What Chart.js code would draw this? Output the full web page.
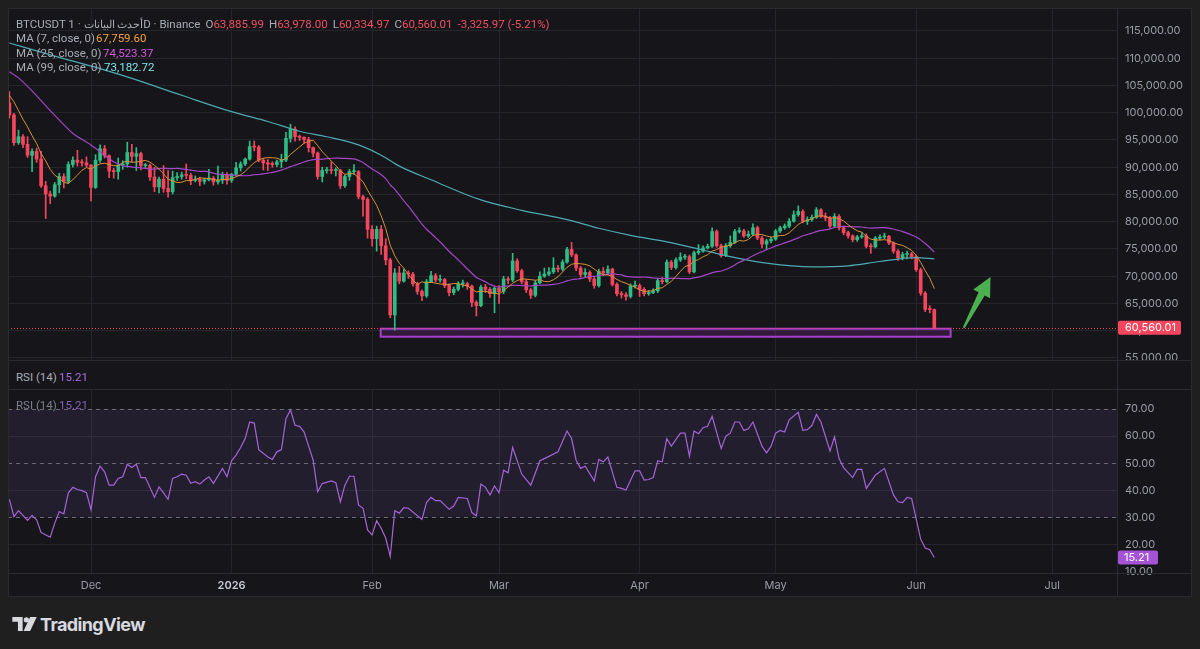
<!DOCTYPE html>
<html lang="en">
<head>
<meta charset="utf-8">
<title>BTCUSDT 1D</title>
<script src="https://cdn.jsdelivr.net/npm/chart.js@4.4.1/dist/chart.umd.min.js"></script>
<style>
  html, body { margin: 0; padding: 0; }
  body { width: 1200px; height: 649px; background: #1f1f1f; position: relative; overflow: hidden; font-family: Inter, Roboto, "Noto Sans", sans-serif; }
  #widget { position: absolute; left: 8px; top: 8px; width: 1184px; height: 588px; background: #16161a; }
  canvas { position: absolute; }
  #priceCanvas { left: 8px; top: 8px; }
  #rsiCanvas { left: 8px; top: 389px; }
  .sep { position: absolute; background: #2a2b31; }
  .legend { position: absolute; font-family: Roboto, "Noto Sans", sans-serif; font-size: 11.5px; line-height: 14px; color: #a9acb5; white-space: nowrap; }
  .legend .item { margin-left: 5px; }
  .ar { font-size: 10.5px; }
  .red { color: #f0505f; }
  #logo { position: absolute; left: 12px; top: 612px; height: 24px; display: flex; align-items: center; color: #d8dae0; font-size: 18px; font-weight: 700; letter-spacing: -0.6px; }
  #logo svg { margin-right: 3px; }
</style>
</head>
<body>
<div id="widget"></div>
<canvas id="priceCanvas" width="1184" height="352"></canvas>
<canvas id="rsiCanvas" width="1184" height="207"></canvas>

<div class="sep" style="left:8px;top:8px;width:1184px;height:1px"></div>
<div class="sep" style="left:8px;top:360px;width:1184px;height:1px"></div>
<div class="sep" style="left:8px;top:389px;width:1184px;height:1px"></div>
<div class="sep" style="left:8px;top:573px;width:1184px;height:1px"></div>
<div class="sep" style="left:8px;top:596px;width:1184px;height:1px"></div>
<div class="sep" style="left:8px;top:8px;width:1px;height:589px"></div>
<div class="sep" style="left:1117px;top:8px;width:1px;height:589px"></div>
<div class="sep" style="left:1191px;top:8px;width:1px;height:589px"></div>

<div class="legend" style="left:16px;top:17px">BTCUSDT 1 · <span class="ar">أحدث البيانات</span>D · Binance<span class="item">O<span class="red">63,885.99</span></span><span class="item">H<span class="red">63,978.00</span></span><span class="item">L<span class="red">60,334.97</span></span><span class="item">C<span class="red">60,560.01</span></span><span class="item red">-3,325.97 (-5.21%)</span></div>
<div class="legend" style="left:16px;top:31px">MA (7, close, 0)</div>
<div class="legend" style="left:96px;top:31px;color:#f4a340">67,759.60</div>
<div class="legend" style="left:16px;top:46px">MA (25, close, 0)</div>
<div class="legend" style="left:103px;top:46px;color:#d656e0">74,523.37</div>
<div class="legend" style="left:16px;top:60px">MA (99, close, 0)</div>
<div class="legend" style="left:104px;top:60px;color:#7fe3e8">73,182.72</div>
<div class="legend" style="left:16px;top:370px">RSI (14)</div>
<div class="legend" style="left:59px;top:370px;color:#a66ee0">15.21</div>
<div class="legend" style="left:16px;top:398px;color:#7d808a">RSI (14)</div>
<div class="legend" style="left:59px;top:398px;color:#8a5fc0">15.21</div>

<div id="logo">
  <svg width="25" height="15" viewBox="0 0 26 16">
    <path d="M0 0 H11 V15 H6 V5 H0 Z" fill="#d8dae0"/>
    <circle cx="15" cy="3" r="2.8" fill="#d8dae0"/>
    <path d="M19 0 H26 L19 15 H12 Z" fill="#d8dae0"/>
  </svg>
  TradingView
</div>

<script>
// day 0 = 13 Nov 2025, one candle per day, prices in thousands of USDT
const monthTicks = [18, 49, 80, 108, 139, 169, 200, 230];
const monthLabels = ['Dec', '2026', 'Feb', 'Mar', 'Apr', 'May', 'Jun', 'Jul'];
const priceTicks = [55, 60, 65, 70, 75, 80, 85, 90, 95, 100, 105, 110, 115];
const rsiTicks = [10, 20, 30, 40, 50, 60, 70];

const firstOpen = 101.8;
const closes = [
  99.6, 94.5, 95.6, 94.2, 92.2, 92.9, 91.5, 86.6, 85.1, 84.7,
  86.8, 88.3, 87.4, 90.5, 91.3, 90.9, 90.8, 90.4, 86.3, 91.3,
  93.4, 92.1, 89.3, 89.2, 90.4, 90.6, 92.7, 92.0, 92.5, 90.3,
  90.3, 88.2, 86.4, 87.8, 86.1, 85.5, 88.1, 88.3, 88.6, 88.5,
  87.6, 87.8, 87.4, 87.7, 88.0, 87.3, 87.6, 88.6, 87.6, 88.7,
  89.9, 90.6, 91.5, 93.8, 93.7, 91.3, 90.8, 90.6, 90.5, 91.0,
  91.3, 95.3, 97.0, 95.6, 95.5, 95.1, 93.6, 92.6, 88.3, 89.4,
  89.5, 89.4, 89.4, 86.6, 88.3, 89.2, 89.2, 84.6, 84.1, 78.6,
  76.9, 78.6, 75.6, 73.0, 62.9, 70.6, 69.1, 70.6, 70.4, 68.6,
  67.2, 66.4, 69.0, 70.1, 69.3, 69.4, 68.3, 67.0, 67.6, 68.6,
  68.6, 68.2, 65.2, 64.6, 68.0, 67.6, 66.8, 67.8, 67.2, 69.5,
  69.3, 72.8, 71.0, 69.0, 67.5, 66.5, 68.8, 70.0, 70.4, 70.8,
  71.5, 71.3, 72.6, 74.9, 73.9, 71.5, 70.3, 70.7, 69.5, 68.3,
  70.9, 70.6, 71.3, 68.5, 66.8, 66.6, 66.3, 68.2, 68.3, 67.6,
  66.8, 67.0, 67.3, 69.2, 69.0, 72.6, 71.6, 73.0, 73.5, 73.6,
  70.8, 74.3, 74.6, 75.2, 75.5, 78.2, 75.6, 73.8, 75.6, 76.2,
  78.2, 78.3, 77.4, 77.7, 78.9, 77.0, 75.9, 76.5, 76.8, 78.3,
  78.9, 79.2, 80.1, 81.3, 81.9, 80.1, 80.4, 80.8, 82.2, 81.0,
  80.7, 79.2, 81.0, 78.9, 78.0, 77.4, 76.7, 77.2, 77.4, 75.5,
  75.4, 77.0, 77.2, 77.3, 76.1, 74.6, 73.4, 74.0, 74.1, 73.6,
  71.2, 66.9, 63.9, 63.886, 60.56
];
const highs = [
  103.9, 99.9, 96.8, 96.0, 95.6, 93.4, 93.5, 92.9, 87.4, 85.6,
  87.2, 88.9, 88.8, 91.0, 91.9, 93.1, 91.4, 91.9, 90.5, 92.3,
  94.1, 94.0, 92.3, 89.8, 91.7, 91.2, 94.6, 94.2, 93.6, 92.8,
  90.7, 90.6, 90.0, 88.2, 90.3, 89.4, 89.3, 89.0, 89.1, 90.6,
  88.9, 88.4, 88.2, 88.0, 89.6, 88.3, 90.2, 89.1, 89.0, 88.9,
  90.9, 91.0, 91.7, 94.8, 94.8, 94.0, 91.6, 91.4, 91.0, 91.3,
  92.4, 96.4, 97.9, 97.4, 95.9, 95.6, 95.5, 93.7, 92.8, 90.0,
  90.0, 91.0, 89.9, 89.6, 88.6, 89.6, 90.5, 89.4, 84.9, 84.4,
  79.3, 79.2, 79.3, 76.9, 73.3, 71.4, 71.8, 71.3, 71.0, 70.7,
  68.9, 67.5, 69.4, 70.9, 70.5, 70.2, 69.6, 68.6, 68.0, 69.0,
  69.3, 68.9, 68.4, 65.5, 68.4, 68.5, 67.9, 68.1, 68.3, 70.0,
  69.9, 74.2, 73.2, 71.3, 69.4, 67.8, 69.2, 70.8, 71.5, 71.6,
  73.4, 72.0, 73.0, 75.3, 76.2, 74.1, 71.8, 71.4, 71.0, 69.8,
  71.3, 71.6, 71.9, 71.5, 68.8, 67.2, 67.0, 68.6, 69.1, 68.6,
  67.9, 67.4, 67.7, 69.6, 69.8, 73.0, 72.9, 73.4, 74.3, 74.0,
  73.9, 74.6, 75.8, 75.6, 75.9, 78.9, 78.5, 75.9, 76.0, 77.4,
  78.6, 78.9, 78.6, 78.3, 79.6, 79.2, 77.3, 76.8, 77.2, 78.6,
  79.2, 79.6, 80.6, 82.0, 82.9, 82.2, 80.9, 81.2, 82.6, 82.4,
  81.6, 81.0, 81.5, 81.3, 79.2, 78.3, 77.6, 77.5, 78.0, 77.8,
  76.0, 77.3, 77.6, 77.9, 77.5, 76.3, 74.9, 74.4, 74.6, 74.4,
  73.9, 71.5, 67.2, 64.6, 63.978
];
const lows = [
  99.0, 94.0, 94.2, 93.6, 91.8, 89.2, 90.9, 86.3, 80.6, 83.3,
  84.5, 85.3, 86.2, 87.0, 90.0, 90.2, 90.2, 90.1, 83.8, 86.1,
  90.9, 91.7, 88.1, 88.0, 87.8, 89.6, 90.0, 91.0, 89.4, 89.5,
  89.8, 87.6, 85.5, 85.3, 85.4, 84.5, 85.1, 87.6, 87.8, 87.9,
  86.8, 87.3, 86.6, 86.9, 87.5, 86.7, 86.9, 87.0, 86.9, 87.2,
  88.4, 89.3, 90.3, 91.3, 93.0, 91.0, 89.5, 89.4, 90.0, 90.1,
  89.9, 91.0, 94.6, 94.8, 94.9, 94.4, 92.8, 91.9, 87.8, 87.3,
  88.9, 88.8, 88.4, 86.1, 86.3, 87.6, 88.7, 84.2, 81.0, 77.0,
  75.5, 74.6, 74.0, 72.1, 62.4, 60.1, 68.6, 68.9, 69.6, 68.2,
  66.7, 65.5, 66.1, 68.8, 68.9, 68.9, 67.9, 66.4, 66.6, 67.3,
  68.0, 67.6, 64.4, 62.7, 64.4, 67.0, 66.1, 63.3, 65.0, 66.8,
  68.6, 69.0, 70.7, 68.6, 67.0, 65.9, 66.2, 68.6, 69.8, 70.1,
  70.5, 70.8, 71.0, 72.4, 73.6, 71.0, 69.8, 69.9, 69.0, 67.8,
  68.0, 70.1, 70.3, 68.2, 66.4, 66.0, 65.6, 66.0, 67.8, 66.3,
  66.4, 66.5, 66.8, 67.0, 68.6, 68.8, 71.2, 71.3, 72.7, 73.1,
  70.5, 70.6, 74.0, 74.4, 75.0, 75.3, 75.3, 73.5, 73.6, 75.3,
  76.0, 77.9, 77.1, 77.1, 77.5, 76.7, 75.2, 74.9, 76.1, 76.6,
  78.0, 78.6, 78.9, 79.9, 81.0, 79.8, 79.5, 80.1, 80.6, 80.7,
  80.2, 78.8, 79.0, 78.5, 77.6, 77.0, 76.3, 76.4, 77.0, 75.2,
  74.2, 75.2, 76.7, 76.9, 75.8, 74.2, 72.9, 73.0, 73.2, 73.2,
  70.9, 66.5, 63.5, 63.3, 60.335
];

// moving-average values before a full window exists
const ma7Head = [[0, 103.2], [1, 102.0], [2, 100.4], [3, 98.8], [4, 97.4], [5, 95.8]];
const ma25Head = [[0, 107.5], [2, 106.4], [5, 104.0], [9, 100.4], [14, 96.2], [18, 94.1], [21, 92.2], [23, 91.0]];
const ma99Points = [
  [0, 112.8], [10, 110.4], [20, 108.1], [27, 106.3], [38, 103.2], [49, 100.2], [57, 98.4],
  [64, 96.6], [70, 95.6], [77, 94.1], [82, 92.2], [86, 90.2], [93, 87.7], [104, 84.0],
  [113, 82.1], [123, 80.4], [130, 78.8], [137, 77.5], [145, 76.3], [152, 75.0], [159, 73.6],
  [167, 72.4], [177, 71.7], [185, 71.9], [192, 72.7], [200, 73.4], [204, 73.18]
];

const rsiDays = [
  0, 1, 2, 4, 5, 6, 7, 9, 10, 11, 12, 13, 14, 15, 16, 17, 18, 19, 20, 21,
  22, 23, 24, 25, 26, 27, 28, 29, 30, 32, 33, 34, 35, 36, 37, 38, 39, 40, 41, 42,
  43, 44, 45, 47, 48, 49, 50, 51, 52, 53, 54, 55, 57, 58, 59, 60, 61, 62, 63, 64,
  65, 66, 67, 68, 69, 71, 72, 73, 74, 75, 76, 77, 78, 79, 80, 81, 82, 83, 84, 85,
  86, 87, 88, 91, 92, 93, 94, 95, 97, 98, 99, 101, 102, 103, 104, 105, 106, 107, 108, 109,
  110, 111, 113, 115, 117, 118, 121, 123, 124, 125, 126, 127, 129, 130, 131, 132, 134, 135, 136, 138,
  139, 140, 141, 142, 143, 144, 145, 146, 148, 149, 150, 151, 152, 153, 154, 155, 157, 158, 159, 160,
  161, 162, 163, 164, 166, 167, 168, 169, 170, 171, 172, 174, 175, 176, 177, 178, 179, 181, 182, 183,
  184, 186, 187, 188, 189, 191, 193, 195, 196, 197, 198, 199, 201, 202, 203, 204
];
const rsiValues = [
  36.7, 30.3, 32.5, 28.9, 30.8, 29.1, 24.4, 22.7, 27.9, 32.2, 31.3, 39.1, 41.1, 40.3, 39.9, 39.1, 32.8, 45.0, 48.9, 46.8,
  41.9, 41.9, 44.4, 45.0, 49.6, 48.4, 49.6, 44.7, 44.7, 37.4, 41.3, 39.1, 36.7, 44.4, 45.0, 46.0, 45.6, 42.6, 43.2, 42.3,
  43.8, 45.0, 42.6, 48.1, 45.0, 50.9, 53.0, 55.8, 59.1, 65.2, 64.8, 55.0, 52.3, 51.4, 54.2, 55.0, 66.4, 69.7, 64.0, 63.6,
  61.5, 56.3, 51.1, 39.5, 42.5, 43.5, 42.8, 35.8, 41.9, 45.2, 45.2, 34.6, 33.4, 25.4, 23.6, 28.8, 26.0, 22.4, 15.6, 32.5,
  31.6, 33.6, 33.4, 29.3, 35.5, 37.4, 36.2, 36.2, 33.0, 34.2, 37.4, 37.0, 31.8, 30.6, 42.3, 41.1, 38.3, 41.6, 39.1, 47.4,
  46.5, 55.8, 46.0, 41.9, 50.9, 51.7, 54.2, 61.9, 59.1, 51.1, 48.1, 48.9, 43.5, 51.4, 50.5, 52.3, 41.1, 40.7, 40.1, 47.2,
  47.2, 43.8, 44.0, 44.7, 50.9, 50.5, 59.1, 56.3, 61.1, 61.1, 52.6, 61.9, 60.9, 63.1, 63.6, 67.3, 55.4, 59.9, 61.1, 65.2,
  65.2, 62.1, 62.7, 65.2, 56.3, 53.8, 56.3, 61.1, 62.1, 61.5, 66.0, 68.8, 62.1, 62.4, 63.9, 68.0, 65.2, 54.5, 59.7, 51.7,
  48.4, 44.7, 47.7, 47.7, 40.7, 45.6, 48.1, 38.3, 35.8, 35.5, 37.4, 37.0, 22.0, 18.7, 18.1, 15.21
];

const lastPrice = 60560.01;
const lastRsi = 15.21;
// [from day, to day, low, high]
const supportZone = [81.9, 207.6, 58.9, 60.37];
// [[day, price], [day, price]] tail -> tip
const arrowPath = [[210.5, 60.55], [216.4, 69.85]];

const upColor = '#2ebd85';
const downColor = '#f6465d';
const gridColor = '#25262c';
const axisText = '#9a9ca6';
const xMin = -0.31, xMax = 244.3;

function fmt(v) {
  return v.toLocaleString('en-US', { minimumFractionDigits: 2, maximumFractionDigits: 2 });
}

function movingAverage(period) {
  const out = [];
  for (let i = period - 1; i < closes.length; i++) {
    let sum = 0;
    for (let j = i - period + 1; j <= i; j++) sum += closes[j];
    out.push({ x: i, y: sum / period });
  }
  return out;
}

const toPoints = arr => arr.map(p => ({ x: p[0], y: p[1] }));
const opens = closes.map((c, i) => i === 0 ? firstOpen : closes[i - 1]);
const candleColors = closes.map((c, i) => c >= opens[i] ? upColor : downColor);

Chart.defaults.font.family = 'Inter, Roboto, sans-serif';
Chart.defaults.animation = false;

function monthGrid(scale) { scale.ticks = monthTicks.map(v => ({ value: v })); }

// green arrow, shaft tapering to the tail
function drawArrow(ctx, x0, y0, x1, y1) {
  const ang = Math.atan2(y1 - y0, x1 - x0);
  const len = Math.hypot(x1 - x0, y1 - y0);
  const headLen = 19, headHalf = 9.5;
  ctx.save();
  ctx.translate(x0, y0);
  ctx.rotate(ang);
  ctx.beginPath();
  ctx.moveTo(0, -1);
  ctx.lineTo(len - headLen, -3.5);
  ctx.lineTo(len - headLen, -headHalf);
  ctx.lineTo(len, 0);
  ctx.lineTo(len - headLen, headHalf);
  ctx.lineTo(len - headLen, 3.5);
  ctx.lineTo(0, 1);
  ctx.closePath();
  ctx.fillStyle = '#4caf50';
  ctx.fill();
  ctx.restore();
}

const priceOverlay = {
  id: 'priceOverlay',
  beforeDatasetsDraw(chart) {
    const { ctx, scales: { x, y } } = chart;
    const x0 = x.getPixelForValue(supportZone[0]);
    const x1 = x.getPixelForValue(supportZone[1]);
    const yTop = y.getPixelForValue(supportZone[3]);
    const yBot = y.getPixelForValue(supportZone[2]);
    ctx.save();
    ctx.fillStyle = 'rgba(156, 39, 176, 0.22)';
    ctx.fillRect(x0, yTop, x1 - x0, yBot - yTop);
    ctx.strokeStyle = '#a83fd0';
    ctx.lineWidth = 2;
    ctx.strokeRect(x0, yTop, x1 - x0, yBot - yTop);
    ctx.restore();
  },
  afterDatasetsDraw(chart) {
    const { ctx, chartArea, scales: { x, y } } = chart;
    const py = Math.round(y.getPixelForValue(lastPrice / 1000)) + 0.5;
    ctx.save();
    ctx.strokeStyle = downColor;
    ctx.lineWidth = 1;
    ctx.setLineDash([1, 2]);
    ctx.beginPath();
    ctx.moveTo(chartArea.left, py);
    ctx.lineTo(chartArea.right, py);
    ctx.stroke();
    ctx.restore();
    drawArrow(ctx,
      x.getPixelForValue(arrowPath[0][0]), y.getPixelForValue(arrowPath[0][1]),
      x.getPixelForValue(arrowPath[1][0]), y.getPixelForValue(arrowPath[1][1]));
  },
  afterDraw(chart) {
    const { ctx, chartArea, scales: { y } } = chart;
    ctx.save();
    ctx.font = '11px Inter, Roboto, sans-serif';
    ctx.textBaseline = 'middle';
    ctx.textAlign = 'left';
    ctx.fillStyle = axisText;
    priceTicks.forEach(v => ctx.fillText(fmt(v * 1000), chartArea.right + 8, y.getPixelForValue(v)));
    const py = y.getPixelForValue(lastPrice / 1000);
    ctx.fillStyle = downColor;
    ctx.beginPath();
    ctx.roundRect(chartArea.right + 1, py - 7, 63, 14, 2);
    ctx.fill();
    ctx.fillStyle = '#ffffff';
    ctx.fillText(fmt(lastPrice), chartArea.right + 8, py + 0.5);
    ctx.restore();
  }
};

new Chart(document.getElementById('priceCanvas'), {
  type: 'bar',
  data: {
    datasets: [
      {
        type: 'line', label: 'MA 7', data: toPoints(ma7Head).concat(movingAverage(7)),
        borderColor: '#d9913a', borderWidth: 1, pointRadius: 0, tension: 0
      },
      {
        type: 'line', label: 'MA 25', data: toPoints(ma25Head).concat(movingAverage(25)),
        borderColor: '#a446c8', borderWidth: 1.2, pointRadius: 0, tension: 0.2
      },
      {
        type: 'line', label: 'MA 99', data: toPoints(ma99Points),
        borderColor: '#4fa9b3', borderWidth: 1.2, pointRadius: 0, cubicInterpolationMode: 'monotone'
      },
      {
        label: 'body', data: closes.map((c, i) => ({ x: i, y: [opens[i], c] })),
        backgroundColor: candleColors, barThickness: 3, minBarLength: 1, grouped: false, borderWidth: 0
      },
      {
        label: 'wick', data: closes.map((c, i) => ({ x: i, y: [lows[i], highs[i]] })),
        backgroundColor: candleColors, barThickness: 1, grouped: false, borderWidth: 0
      }
    ]
  },
  options: {
    responsive: false,
    events: [],
    layout: { padding: 0 },
    plugins: { legend: { display: false }, tooltip: { enabled: false } },
    scales: {
      x: {
        type: 'linear', min: xMin, max: xMax, offset: false,
        grid: { color: gridColor, drawTicks: false, offset: false },
        border: { display: false }, ticks: { display: false },
        afterBuildTicks: monthGrid,
        afterFit: s => { s.height = 0; }
      },
      y: {
        position: 'right', min: 54.63, max: 119.22, beginAtZero: false,
        grid: { color: gridColor, drawTicks: false },
        border: { display: false }, ticks: { display: false },
        afterBuildTicks: s => { s.ticks = priceTicks.map(v => ({ value: v })); },
        afterFit: s => { s.width = 75; }
      }
    }
  },
  plugins: [priceOverlay]
});

const rsiOverlay = {
  id: 'rsiOverlay',
  beforeDatasetsDraw(chart) {
    const { ctx, chartArea, scales: { y } } = chart;
    const y70 = y.getPixelForValue(70), y30 = y.getPixelForValue(30);
    ctx.save();
    ctx.fillStyle = 'rgba(126, 87, 194, 0.12)';
    ctx.fillRect(chartArea.left, y70, chartArea.right - chartArea.left, y30 - y70);
    ctx.strokeStyle = 'rgba(130, 133, 144, 0.75)';
    ctx.lineWidth = 1;
    ctx.setLineDash([4, 4]);
    [70, 50, 30].forEach(v => {
      const py = Math.round(y.getPixelForValue(v)) + 0.5;
      ctx.beginPath();
      ctx.moveTo(chartArea.left, py);
      ctx.lineTo(chartArea.right, py);
      ctx.stroke();
    });
    ctx.restore();
  },
  afterDraw(chart) {
    const { ctx, chartArea, scales: { x, y } } = chart;
    ctx.save();
    ctx.font = '11px Inter, Roboto, sans-serif';
    ctx.textBaseline = 'middle';
    ctx.textAlign = 'left';
    ctx.fillStyle = axisText;
    ctx.save();
    ctx.beginPath();
    ctx.rect(chartArea.right, 0, 80, chartArea.bottom + 2);
    ctx.clip();
    rsiTicks.forEach(v => ctx.fillText(fmt(v), chartArea.right + 8, y.getPixelForValue(v)));
    ctx.restore();

    const py = y.getPixelForValue(lastRsi);
    ctx.fillStyle = '#a452d6';
    ctx.beginPath();
    ctx.roundRect(chartArea.right + 1, py - 7, 40, 14, 2);
    ctx.fill();
    ctx.fillStyle = '#ffffff';
    ctx.fillText(fmt(lastRsi), chartArea.right + 7, py + 0.5);

    ctx.textAlign = 'center';
    monthTicks.forEach((v, i) => {
      const bold = monthLabels[i] === '2026';
      ctx.font = (bold ? '600 ' : '') + '11px Inter, Roboto, sans-serif';
      ctx.fillStyle = bold ? '#c9ccd4' : axisText;
      ctx.fillText(monthLabels[i], x.getPixelForValue(v), chartArea.bottom + 13);
    });
    ctx.restore();
  }
};

new Chart(document.getElementById('rsiCanvas'), {
  type: 'line',
  data: {
    datasets: [{
      label: 'RSI 14', data: rsiDays.map((d, i) => ({ x: d, y: rsiValues[i] })),
      borderColor: '#a664d8', borderWidth: 1.2, pointRadius: 0, tension: 0
    }]
  },
  options: {
    responsive: false,
    events: [],
    layout: { padding: 0 },
    plugins: { legend: { display: false }, tooltip: { enabled: false } },
    scales: {
      x: {
        type: 'linear', min: xMin, max: xMax, offset: false,
        grid: { color: gridColor, drawTicks: false },
        border: { display: false }, ticks: { display: false },
        afterBuildTicks: monthGrid,
        afterFit: s => { s.height = 23; }
      },
      y: {
        position: 'right', min: 9.52, max: 77.37,
        grid: { color: c => [20, 40, 60].includes(c.tick.value) ? gridColor : 'rgba(0,0,0,0)', drawTicks: false },
        border: { display: false }, ticks: { display: false },
        afterBuildTicks: s => { s.ticks = rsiTicks.map(v => ({ value: v })); },
        afterFit: s => { s.width = 75; }
      }
    }
  },
  plugins: [rsiOverlay]
});
</script>
</body>
</html>
